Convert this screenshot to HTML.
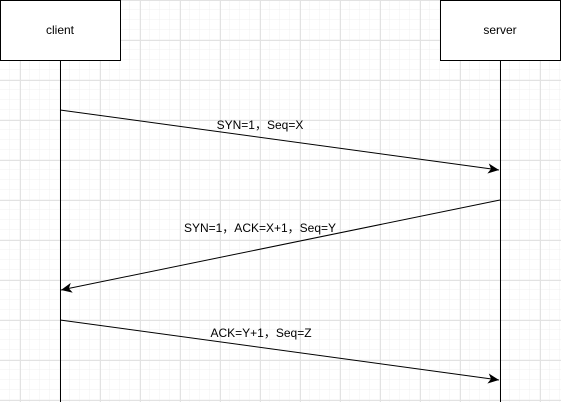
<!DOCTYPE html>
<html><head><meta charset="utf-8"><style>
html,body{margin:0;padding:0;background:#fff;}
svg{display:block;}
text{font-family:"Liberation Sans","Noto Sans CJK SC",sans-serif;font-size:12px;fill:#000;}
</style></head><body>
<svg width="561" height="402" viewBox="0 0 561 402" xmlns="http://www.w3.org/2000/svg">
<defs>
<pattern id="minor" width="10" height="10" patternUnits="userSpaceOnUse">
<path d="M10 0V10M0 10H10" fill="none" stroke="#f0f0f0" stroke-width="1"/>
</pattern>
<pattern id="major" x="20" y="0" width="40" height="40" patternUnits="userSpaceOnUse">
<path d="M0.5 0V40M0 0.5H40" fill="none" stroke="#e2e2e2" stroke-width="1"/>
</pattern>
<marker id="ar" markerWidth="12" markerHeight="10" refX="11" refY="5" orient="auto" markerUnits="userSpaceOnUse">
<path d="M0 0L11 5L0 10L3 5Z" fill="#000"/>
</marker>
</defs>
<rect width="561" height="402" fill="url(#minor)"/>
<rect width="561" height="402" fill="url(#major)"/>
<line x1="60.5" y1="60" x2="60.5" y2="402" stroke="#000"/>
<line x1="500.5" y1="60" x2="500.5" y2="402" stroke="#000"/>
<rect x="0.5" y="0.5" width="120" height="60" fill="#fff" stroke="#000"/>
<rect x="440.5" y="0.5" width="120" height="60" fill="#fff" stroke="#000"/>
<text x="60" y="34" text-anchor="middle">client</text>
<text x="500" y="34" text-anchor="middle">server</text>
<line x1="60" y1="110" x2="499" y2="170" stroke="#000" marker-end="url(#ar)"/>
<line x1="500" y1="200" x2="61" y2="290" stroke="#000" marker-end="url(#ar)"/>
<line x1="60" y1="320" x2="499" y2="380" stroke="#000" marker-end="url(#ar)"/>
<text x="260" y="129" text-anchor="middle">SYN=1，Seq=X</text>
<text x="260" y="232" text-anchor="middle">SYN=1，ACK=X+1，Seq=Y</text>
<text x="261" y="337" text-anchor="middle">ACK=Y+1，Seq=Z</text>
</svg>
</body></html>
